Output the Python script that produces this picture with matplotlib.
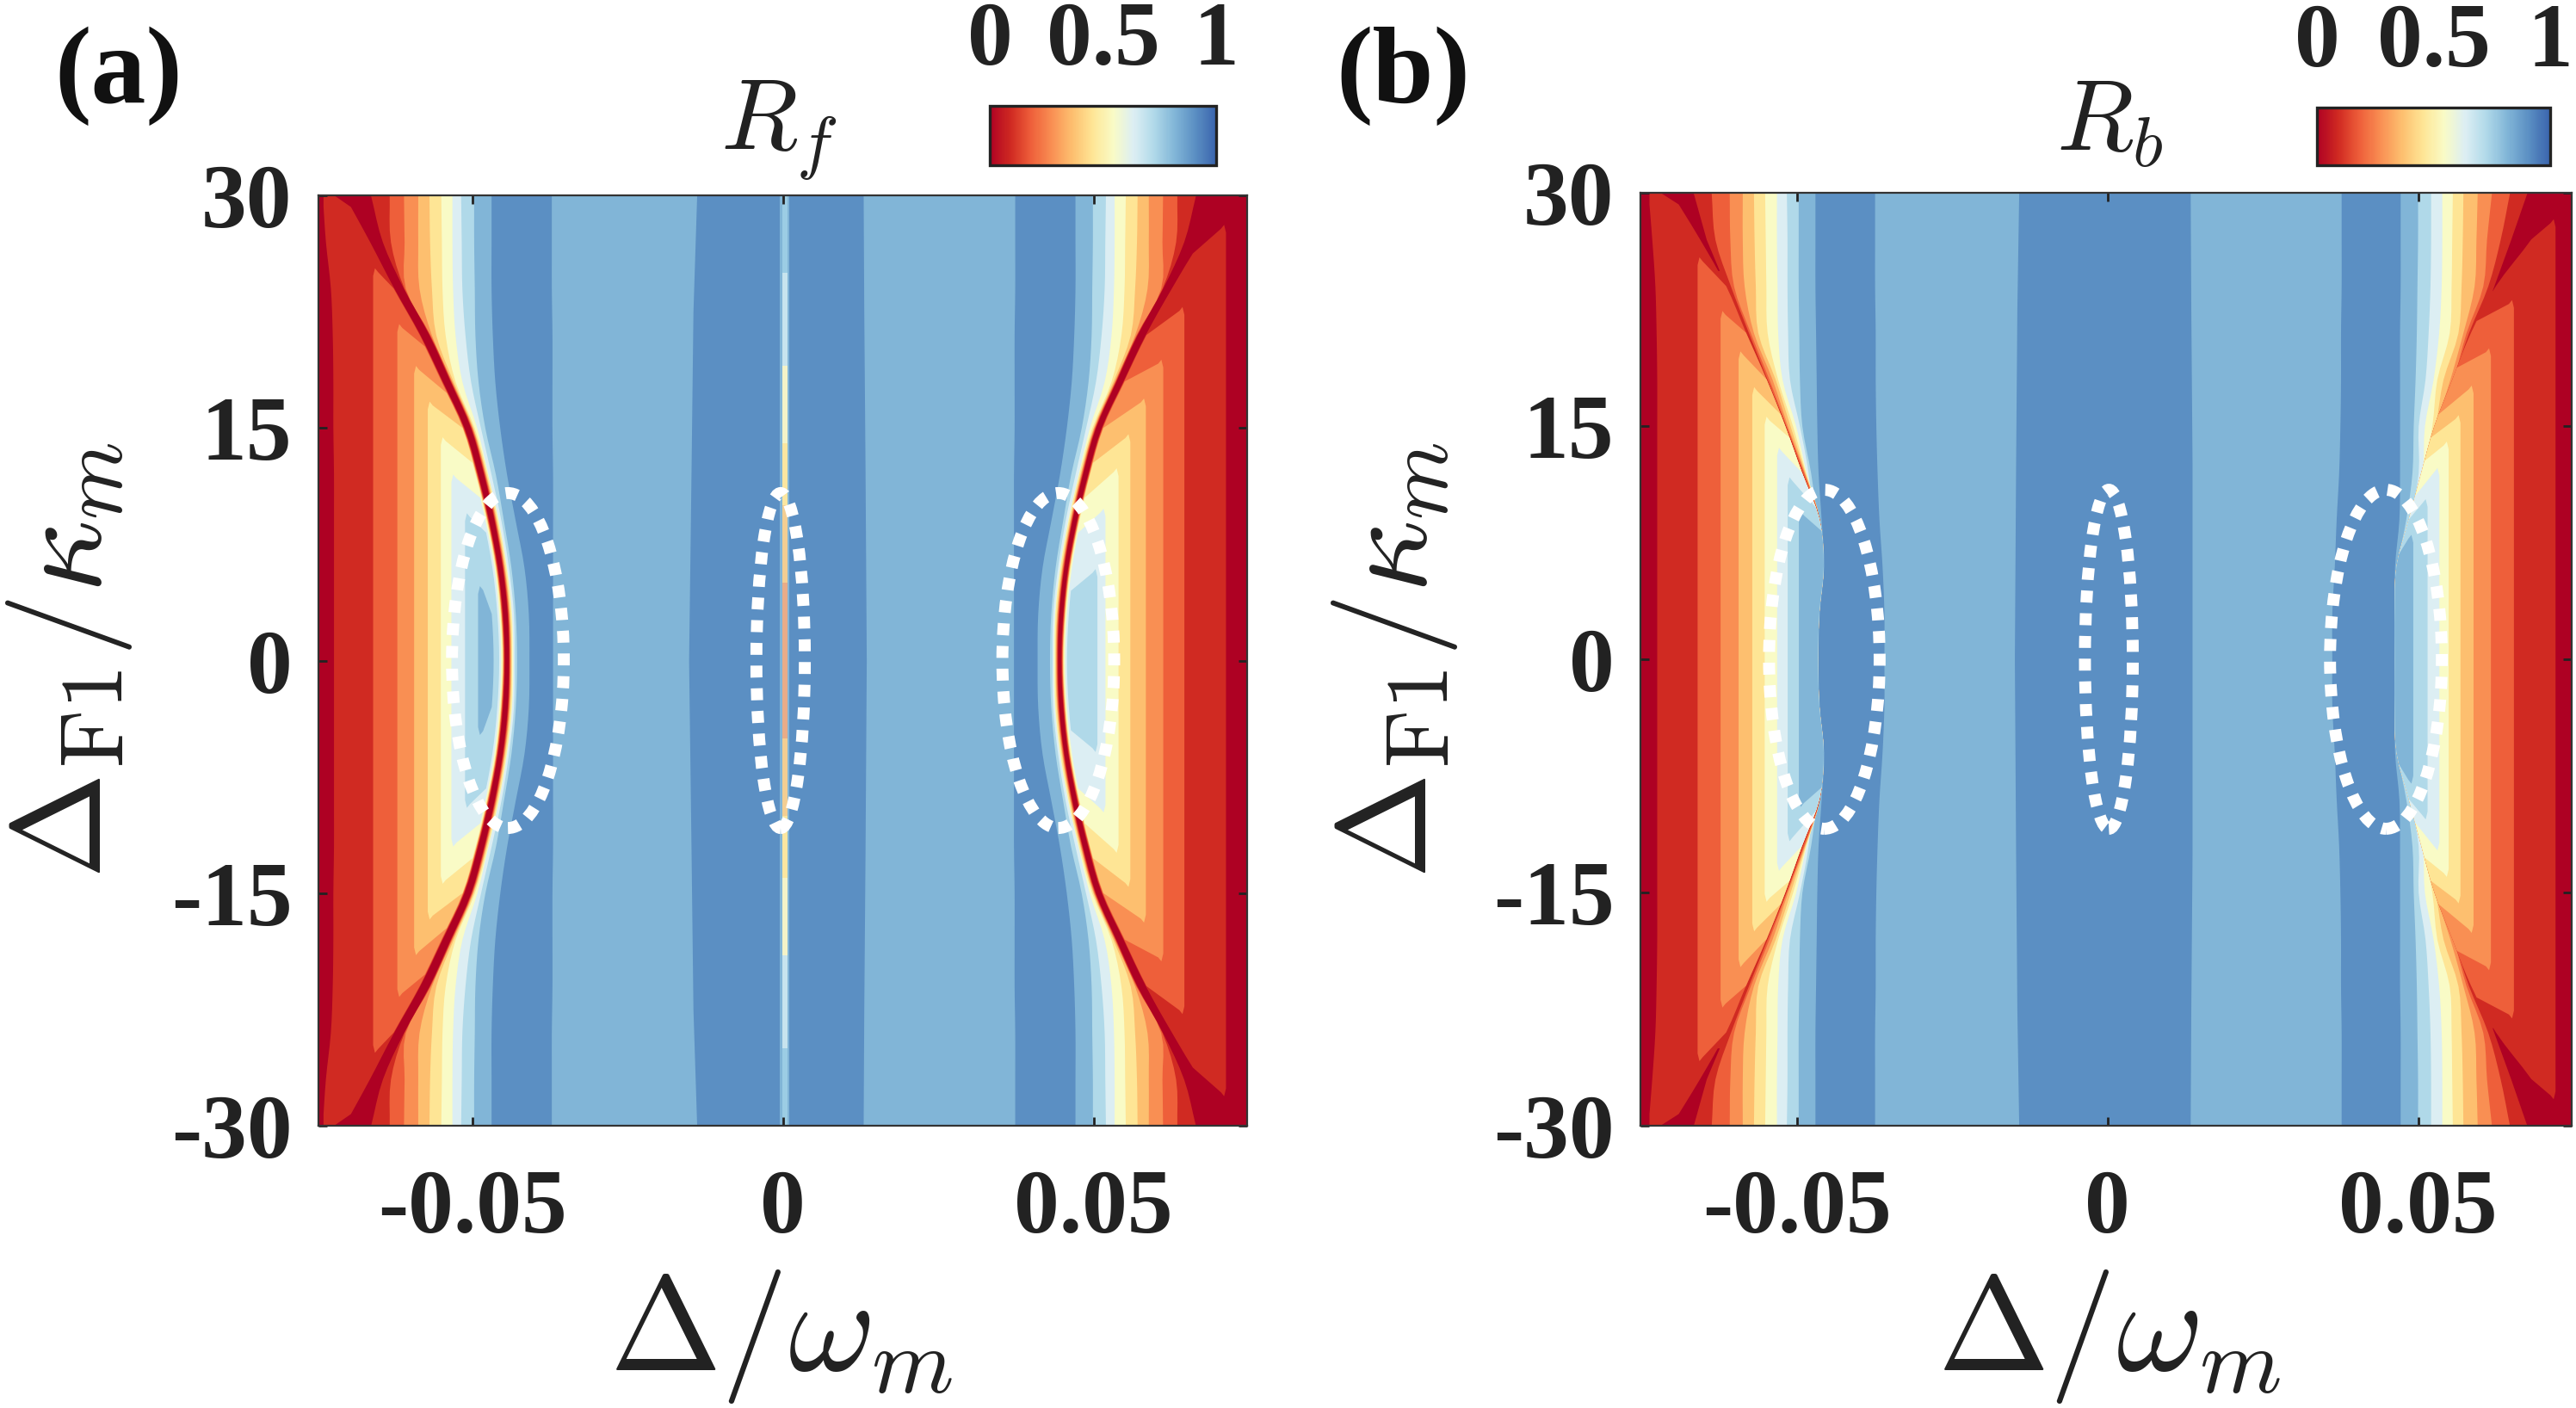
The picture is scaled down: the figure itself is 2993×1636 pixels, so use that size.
import numpy as np
import matplotlib
matplotlib.use('Agg')
import matplotlib.pyplot as plt
from matplotlib.patches import Ellipse
from matplotlib.colors import LinearSegmentedColormap, Normalize
from matplotlib.cm import ScalarMappable

plt.rcParams['font.family'] = ['Liberation Serif', 'DejaVu Serif']
plt.rcParams['mathtext.fontset'] = 'cm'

# band colours, low to high R
colors = ['#AE0123', '#D02A22', '#EE5F3A', '#F98F53', '#FDBF6F', '#FEE595',
          '#F9FBC6', '#DCEEF3', '#B0D9E9', '#81B5D7', '#5B8FC3']
cbar_colors = colors + ['#3A64AD']

# sampled detuning rows (upper half, the maps are mirrored in y)
y_s = np.array([30, 27, 24, 21, 18, 15, 12, 9, 6, 3, 0])

# contour edges, |delta| at each row of y_s
ridge_out_a = [.0706, .0665, .0626, .0584, .0548, .0513, .0491, .0473, .0459, .0451, .0448]
ridge_out_a_r = [.0730, .0672, .0626, .0584, .0548, .0513, .0491, .0473, .0459, .0451, .0448]
ridge_in_a = [.0664, .0645, .0611, .0570, .0536, .0503, .0482, .0465, .0452, .0444, .0442]
bands_a = [
    [.0634, .0632, .0610, .0569, .0535, .0502, .0481, .0464, .0451, .0443, .0441],
    [.0611, .0610, .0608, .0568, .0534, .0501, .0480, .0463, .0450, .0442, .0440],
    [.0588, .0588, .0586, .0566, .0533, .0500, .0479, .0462, .0449, .0441, .0439],
    [.0570, .0569, .0566, .0559, .0531, .0499, .0478, .0461, .0448, .0440, .0438],
    [.0551, .0550, .0549, .0544, .0528, .0497, .0476, .0459, .0446, .0438, .0437],
    [.0533, .0533, .0532, .0528, .0517, .0493, .0475, .0458, .0445, .0437, .0435],
    [.0519, .0518, .0517, .0512, .0503, .0487, .0470, .0454, .0442, .0434, .0433],
    [.0498, .0498, .0497, .0496, .0491, .0480, .0463, .0450, .0438, .0431, .0429],
    [.0470, .0470, .0470, .0468, .0464, .0456, .0445, .0431, .0417, .0410, .0409],
    [.0373, .0373, .0373, .0372, .0372, .0372, .0371, .0371, .0371, .0371, .0371],
]
strip_a = [.0741, .0736, .0728, .0725, .0724, .0724, .0723, .0723, .0723, .0723, .0723]
outer_a_l = [strip_a, .0660, .0621, .0594, .0572, .0551, .0534, .0512, .0491]
tips_a_l = [30.5, 25.3, 21.7, 19.0, 16.7, 14.4, 12.0, 9.5, 4.8]
outer_a_r = [.0713, .0646, .0612, .0584, .0559, .0540, .0519, .0506]
tips_a_r = [28.1, 22.8, 19.4, 16.9, 14.6, 12.4, 9.8, 5.9]
gaps_a = [0, .0001, .0002, .00025, .0003, .0004, .0006, .0009, .0018]

# contour edges, left and right differ near the valley
inner_b_l = [.0702, .0656, .0614, .0582, .0549, .0519, .0492, .0464, .0457, .0464, .0466]
inner_b_r = [.0730, .0682, .0625, .0585, .0555, .0526, .0505, .0485, .0465, .0462, .0462]
bands_b_l = [
    [.0638, .0632, .0607, .0578, .0548, .0518, .0491, .0464, .0459, .0466, .0468],
    [.0609, .0608, .0602, .0575, .0545, .0517, .0489, .0464, .0459, .0466, .0468],
    [.0588, .0588, .0585, .0570, .0540, .0515, .0488, .0464, .0459, .0466, .0468],
    [.0570, .0569, .0567, .0563, .0535, .0511, .0487, .0464, .0459, .0466, .0468],
    [.0552, .0551, .0550, .0548, .0531, .0507, .0486, .0464, .0459, .0466, .0468],
    [.0533, .0533, .0532, .0531, .0524, .0502, .0485, .0464, .0459, .0466, .0468],
    [.0517, .0516, .0516, .0515, .0512, .0496, .0482, .0475, .0459, .0466, .0468],
    [.0498, .0498, .0498, .0497, .0496, .0492, .0478, .0468, .0459, .0466, .0468],
    [.0471, .0471, .0471, .0470, .0469, .0468, .0466, .0461, .0457, .0464, .0466],
    [.0375, .0375, .0375, .0374, .0374, .0373, .0371, .0368, .0363, .0360, .0360],
]
bands_b_r = [
    [.0647, .0632, .0612, .0581, .0556, .0527, .0506, .0486, .0466, .0463, .0463],
    [.0618, .0610, .0604, .0577, .0556, .0527, .0506, .0486, .0466, .0463, .0463],
    [.0595, .0593, .0590, .0572, .0551, .0527, .0506, .0486, .0466, .0463, .0463],
    [.0572, .0571, .0569, .0564, .0540, .0527, .0506, .0486, .0466, .0463, .0463],
    [.0555, .0554, .0553, .0550, .0530, .0522, .0506, .0486, .0466, .0463, .0463],
    [.0538, .0538, .0537, .0533, .0524, .0510, .0506, .0486, .0466, .0463, .0463],
    [.0520, .0520, .0519, .0516, .0511, .0500, .0500, .0486, .0466, .0463, .0463],
    [.0499, .0499, .0498, .0497, .0495, .0492, .0490, .0480, .0466, .0463, .0463],
    [.0471, .0471, .0471, .0470, .0470, .0470, .0470, .0469, .0462, .0462, .0462],
    [.0376, .0376, .0376, .0375, .0375, .0374, .0372, .0368, .0365, .0361, .0361],
]
strip_b = [.0739, .0733, .0728, .0726, .0725, .0725, .0725, .0725, .0725, .0725, .0725]
outer_b_l = [strip_b, .0660, .0623, .0594, .0572, .0552, .0532, .0515, .0497]
tips_b_l = [30.5, 25.85, 22.4, 19.8, 17.5, 15.6, 13.6, 11.7, 9.5]
outer_b_r = [.0721, .0654, .0617, .0589, .0568, .0549, .0534, .0515, .0492]
tips_b_r = [28.3, 23.1, 20.0, 17.6, 15.7, 14.0, 12.3, 10.3, 8.0]
gaps_b = [0, 0, 0, 0, 0, 0, 0, 0, 0]
wedge_y_b_l = [30, 27, 25]
wedge_in_b_l = [.0667, .0646, .0625]
wedge_y_b_r = [30, 27, 23.7]
wedge_in_b_r = [.0675, .0649, .0619]

# central steel band, rows and edges
center_y = [30, 22.5, 12.5, 0]
center_a_l = [-.0139, -.0145, -.0148, -.0152]
center_a_r = [.0129, .0130, .0132, .0134]
center_b_l = [-.0143, -.0146, -.0148, -.0150]
center_b_r = [.0133, .0134, .0136, .0136]

# thin resonance line at zero detuning, panel (a)
line_y = [30, 25, 19, 14, 10, 5, 0]
line_colors = ['#9CCDE4', '#C8E4EE', '#F4F3C8', '#FBE6A0', '#F3CE92', '#E8AC88']

# dashed ellipses: centre, half width, half height
ell_a = [(-.0443, .0090, 10.8), (-.0004, .0039, 10.8), (.0443, .0090, 10.8)]
ell_b = [(-.0456, .0089, 10.9), (.0002, .00385, 10.9), (.0448, .0090, 10.9)]

xticks = [-0.05, 0, 0.05]
xticklabels = ['-0.05', '0', '0.05']
yticks = [30, 15, 0, -15, -30]
yticklabels = ['30', '15', '0', '-15', '-30']

W, H = 2993, 1636
EDGE = .08
y_dense = np.linspace(30, 0, 41)


def dense(vals):
    # smooth path through the rows of y_s, so contour edges have no corners
    v = np.broadcast_to(vals, y_s.shape).astype(float)
    p = np.r_[2 * v[0] - v[1], v, v[-2]]
    out = []
    for i in range(1, len(p) - 2):
        for t in (0, .25, .5, .75):
            out.append(.5 * (2 * p[i] + (p[i + 1] - p[i - 1]) * t
                             + (2 * p[i - 1] - 5 * p[i] + 4 * p[i + 1] - p[i + 2]) * t ** 2
                             + (3 * p[i] - p[i - 1] - 3 * p[i + 1] + p[i + 2]) * t ** 3))
    out.append(v[-1])
    return np.array(out)


def full(vals):
    vals = np.asarray(vals)
    return np.r_[vals, vals[-2::-1]]


def tongue(ax, sign, inner, outer, tip, gap, col):
    inner = dense(inner) + gap
    outer = dense(outer)
    keep = y_dense < tip - 1.2
    yy = y_dense[keep]
    ix = inner[keep]
    ox = outer[keep]
    # from the tip down the inner edge, then back up the outer edge
    tx = ox[0] - .0008
    rx = ox[0] - .0003
    xs = np.r_[rx, tx, ix, ix[-2::-1], tx, rx, ox[0], ox, ox[-2::-1], ox[0]]
    ys = np.r_[tip, tip - .25, yy, -yy[-2::-1], -tip + .25, -tip, -tip + .5, -yy, yy[-2::-1], tip - .5]
    ax.fill(sign * xs, ys, color=col, lw=0)


def draw_side(ax, sign, bands, wedge_y, wedge_in, inner, outers, tips, gaps):
    y = np.r_[y_dense, -y_dense[-2::-1]]
    # centre side of the valley, bluest first
    for edge, col in zip(bands[::-1], colors[1:][::-1]):
        ax.fill_betweenx(y, sign * full(dense(edge)), sign * EDGE, color=col, lw=0)
    # dark red strip at the border and the valley wedge
    ax.fill_betweenx([-30, 30], sign * .0711, sign * EDGE, color=colors[0], lw=0)
    if len(wedge_y) == len(y_s):
        wedge_y, wedge_in = y_dense, dense(wedge_in)
    for s in (1, -1):
        ax.fill_betweenx(s * np.asarray(wedge_y), sign * np.asarray(wedge_in), sign * EDGE,
                         color=colors[0], lw=0)
    # closed contours on the outer side of the valley
    for k, (out, tip) in enumerate(zip(outers, tips)):
        tongue(ax, sign, inner, out, tip, gaps[k], colors[k + 1])


def draw_panel(pos, xlim, bands_l, bands_r, left, right, center_l, center_r, ells):
    ax = fig.add_axes([pos[0] / W, 1 - pos[3] / H, (pos[1] - pos[0]) / W, (pos[3] - pos[2]) / H])
    ax.set_facecolor(colors[9])
    cy = np.r_[center_y, -np.array(center_y[-2::-1])]
    ax.fill_betweenx(cy, full(center_l), full(center_r), color=colors[10], lw=0)
    draw_side(ax, -1, bands_l, *left)
    draw_side(ax, 1, bands_r, *right)
    for cx, a, b in ells:
        ax.add_patch(Ellipse((cx, 0), 2 * a, 2 * b, fill=False, ec='white', lw=10,
                             ls=(0, (1.0, 0.9)), capstyle='butt', zorder=5))
    ax.set_xlim(xlim)
    ax.set_ylim(-30, 30)
    ax.set_xticks(xticks)
    ax.set_xticklabels(xticklabels)
    ax.set_yticks(yticks)
    ax.set_yticklabels(yticklabels)
    ax.tick_params(direction='in', top=True, right=True, length=7, width=2, color='#222222',
                   labelsize=TICK_FS)
    ax.tick_params(axis='x', pad=36)
    ax.tick_params(axis='y', pad=22)
    for lab in ax.get_xticklabels() + ax.get_yticklabels():
        lab.set_fontweight('bold')
        lab.set_color('#222222')
    for sp in ax.spines.values():
        sp.set_linewidth(1.6)
        sp.set_color('#333333')
    return ax


def draw_cbar(pos):
    cax = fig.add_axes([pos[0] / W, 1 - pos[3] / H, (pos[1] - pos[0]) / W, (pos[3] - pos[2]) / H])
    cmap = LinearSegmentedColormap.from_list('rb', cbar_colors)
    cb = fig.colorbar(ScalarMappable(Normalize(0, 1), cmap), cax=cax, orientation='horizontal')
    cb.set_ticks([0, 0.5, 1])
    cb.set_ticklabels(['0', '0.5', '1'])
    cax.xaxis.set_ticks_position('top')
    cax.tick_params(length=0, pad=18, labelsize=TICK_FS, labelcolor='#222222')
    for lab in cax.get_xticklabels():
        lab.set_fontweight('bold')
    cb.outline.set_linewidth(2.4)
    cb.outline.set_edgecolor('#222222')


TICK_FS = 76
fig = plt.figure(figsize=(W / 100, H / 100), dpi=100)

ax_a = draw_panel((370, 1449, 227, 1308), (-.0748, .0747), bands_a, bands_a,
                  (y_s, ridge_in_a, ridge_out_a, outer_a_l, tips_a_l, gaps_a),
                  (y_s, ridge_in_a, ridge_out_a_r, outer_a_r, tips_a_r, gaps_a),
                  center_a_l, center_a_r, ell_a)
ax_a.fill_betweenx([-30, 30], -.0005, .0010, color=colors[9], lw=0)
for i, col in enumerate(line_colors):
    for s in (1, -1):
        ax_a.fill_betweenx([s * line_y[i], s * line_y[i + 1]], -.0001, .0007, color=col, lw=0)

ax_b = draw_panel((1906, 2988, 224, 1308), (-.0752, .0747), bands_b_l, bands_b_r,
                  (wedge_y_b_l, wedge_in_b_l, inner_b_l, outer_b_l, tips_b_l, gaps_b),
                  (wedge_y_b_r, wedge_in_b_r, inner_b_r, outer_b_r, tips_b_r, gaps_b),
                  center_b_l, center_b_r, ell_b)

draw_cbar((1150, 1413, 123, 192))
draw_cbar((2692, 2963, 125, 192))

LABEL_FS = 112
for x0, y0 in [(907, 1553), (2450, 1553)]:
    fig.text(x0 / W, 1 - y0 / H, r'$\Delta/\omega_m$', fontsize=LABEL_FS, ha='center', va='center',
             color='#222222')
for x0 in (80, 1620):
    fig.text(x0 / W, 1 - 767 / H, r'$\Delta_{\mathrm{F1}}/\kappa_m$', fontsize=LABEL_FS * .95,
             rotation=90, ha='center', va='center', color='#222222')
fig.text(905 / W, 1 - 152 / H, r'$R_f$', fontsize=84, ha='center', va='center', color='#222222')
fig.text(2451 / W, 1 - 147 / H, r'$R_b$', fontsize=84, ha='center', va='center', color='#222222')
fig.text(138 / W, 1 - 88 / H, '(a)', fontsize=92, fontweight='bold', ha='center', va='center', color='#111111')
fig.text(1630 / W, 1 - 88 / H, '(b)', fontsize=92, fontweight='bold', ha='center', va='center', color='#111111')

fig.savefig('out.png', dpi=100)
